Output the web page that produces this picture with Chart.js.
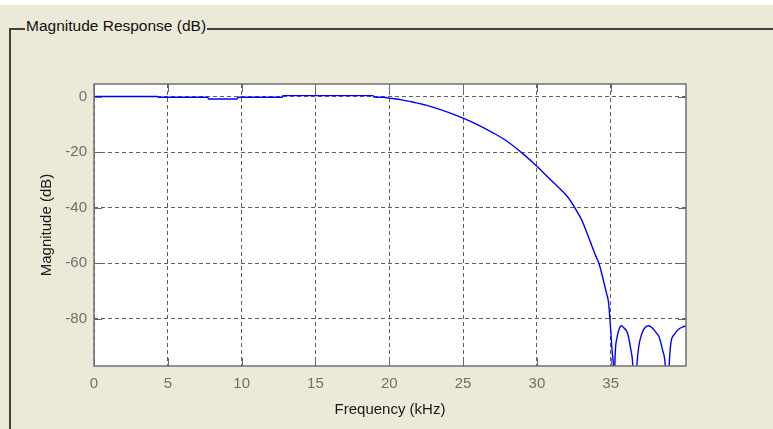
<!DOCTYPE html>
<html lang="en">
<head>
<meta charset="UTF-8">
<title>Magnitude Response (dB)</title>
<script src="https://cdn.jsdelivr.net/npm/chart.js"></script>
<style>
  body { margin: 0; width: 773px; height: 429px; background: #ECE9D8; position: relative; overflow: hidden;
         font-family: "Liberation Sans", Arial, sans-serif; }
  .topstrip { position: absolute; left: 0; top: 0; width: 773px; height: 5px; background: #ffffff; }
  .group { position: absolute; left: 9px; top: 28px; right: -5px; bottom: -5px;
           border-top: 2px solid #404040; border-left: 2px solid #404040; }
  .legend { position: absolute; left: 25px; top: 17px; line-height: 18px; font-size: 15.5px;
            color: #111; background: #ECE9D8; padding: 0 1px; }
  #wrap { position: absolute; left: 0; top: 0; width: 773px; height: 429px; }
</style>
</head>
<body>
<div class="topstrip"></div>
<div class="group"></div>
<span class="legend">Magnitude Response (dB)</span>
<div id="wrap"><canvas id="magChart" width="773" height="429"></canvas></div>
<script>
// values
const freqKHz = [0, 4.3, 4.35, 7.7, 7.75, 9.7, 9.75, 12.75, 12.8, 18.9, 18.95, 19.6,
  20, 20.5, 21, 21.5, 22, 22.5, 23, 24, 25, 26, 27, 28, 29, 30, 31, 32, 32.3, 32.7,
  33, 33.3, 33.6, 34, 34.2, 34.5, 34.7, 34.85, 35, 35.1, 35.2, 35.24, 35.28, 35.4,
  35.55, 35.73, 35.9, 36.13, 36.36, 36.5, 36.62, 36.77, 36.9, 37.1, 37.3, 37.55,
  37.8, 38.05, 38.26, 38.5, 38.7, 38.86, 38.96, 39.08, 39.3, 39.64, 39.9, 40.1];
const magDB = [0.1, 0.1, -0.2, -0.2, -0.8, -0.8, -0.2, -0.2, 0.4, 0.4, -0.1, -0.2,
  -0.5, -0.8, -1.3, -1.8, -2.4, -3.0, -3.8, -5.6, -7.7, -10.1, -12.9, -16.1, -20.3, -25, -30.3, -35.6, -37.7, -41.2,
  -44, -47.8, -52, -57.5, -60, -66, -70.5, -74, -84, -92, -100, -120, -97, -87.5,
  -84, -82.5, -83.3, -85, -91, -97, -115, -97, -90, -85.5, -83.3, -82.5,
  -83.2, -84.8, -86.3, -91, -97, -115, -97, -88.6, -85.7, -83.6, -82.9, -82.6];
const xTicks = [0, 5, 10, 15, 20, 25, 30, 35];
const yTicks = [-80, -60, -40, -20, 0];

const tickFont = { family: '"Liberation Sans", Arial, sans-serif', size: 15 };

// white axes background, box and inward tick marks like the MATLAB axes
const axesBox = {
  id: 'axesBox',
  beforeDraw(chart) {
    const a = chart.chartArea, ctx = chart.ctx;
    ctx.save();
    ctx.fillStyle = '#ffffff';
    ctx.fillRect(a.left, a.top, a.right - a.left, a.bottom - a.top);
    ctx.restore();
  },
  afterDraw(chart) {
    const a = chart.chartArea, ctx = chart.ctx;
    const xs = chart.scales.x, ys = chart.scales.y;
    const len = 8;
    ctx.save();
    ctx.strokeStyle = '#666666';
    ctx.lineWidth = 1;
    ctx.beginPath();
    xTicks.forEach(v => {
      const px = Math.round(xs.getPixelForValue(v)) + 0.5;
      ctx.moveTo(px, a.top); ctx.lineTo(px, a.top + len);
      ctx.moveTo(px, a.bottom); ctx.lineTo(px, a.bottom - len);
    });
    yTicks.forEach(v => {
      const py = Math.round(ys.getPixelForValue(v)) + 0.5;
      ctx.moveTo(a.left, py); ctx.lineTo(a.left + len, py);
      ctx.moveTo(a.right, py); ctx.lineTo(a.right - len, py);
    });
    ctx.stroke();
    ctx.strokeStyle = '#707070';
    ctx.lineWidth = 1.5;
    ctx.strokeRect(a.left, a.top, a.right - a.left, a.bottom - a.top);
    ctx.restore();
  }
};

new Chart(document.getElementById('magChart'), {
  type: 'line',
  data: {
    datasets: [{
      data: freqKHz.map((f, i) => ({ x: f, y: magDB[i] })),
      borderColor: '#0000ff',
      borderWidth: 1.4,
      pointRadius: 0,
      cubicInterpolationMode: 'monotone',
      fill: false
    }]
  },
  options: {
    responsive: false,
    animation: false,
    layout: { padding: { left: 0, right: 87, top: 84, bottom: 0 } },
    plugins: { legend: { display: false }, tooltip: { enabled: false } },
    scales: {
      x: {
        type: 'linear', min: 0, max: 40.1,
        afterBuildTicks: s => { s.ticks = xTicks.map(v => ({ value: v })); },
        afterFit: s => { s.height = 63; },
        grid: { color: '#5f5f5f', lineWidth: 1, drawTicks: false },
        border: { display: false, dash: [4, 3] },
        ticks: { color: '#6f6f6f', font: tickFont, padding: 9, maxRotation: 0 },
        title: { display: true, text: 'Frequency (kHz)', color: '#1a1a1a', font: tickFont,
                 padding: { top: 0, bottom: 10 } }
      },
      y: {
        type: 'linear', min: -97, max: 4.6,
        afterBuildTicks: s => { s.ticks = yTicks.map(v => ({ value: v })); },
        afterFit: s => { s.width = 94; },
        grid: { color: '#5f5f5f', lineWidth: 1, drawTicks: false },
        border: { display: false, dash: [4, 3] },
        ticks: { color: '#6f6f6f', font: tickFont, padding: 7 },
        title: { display: true, text: 'Magnitude (dB)', color: '#1a1a1a', font: tickFont,
                 padding: { top: 38, bottom: 0 } }
      }
    }
  },
  plugins: [axesBox]
});
</script>
</body>
</html>
